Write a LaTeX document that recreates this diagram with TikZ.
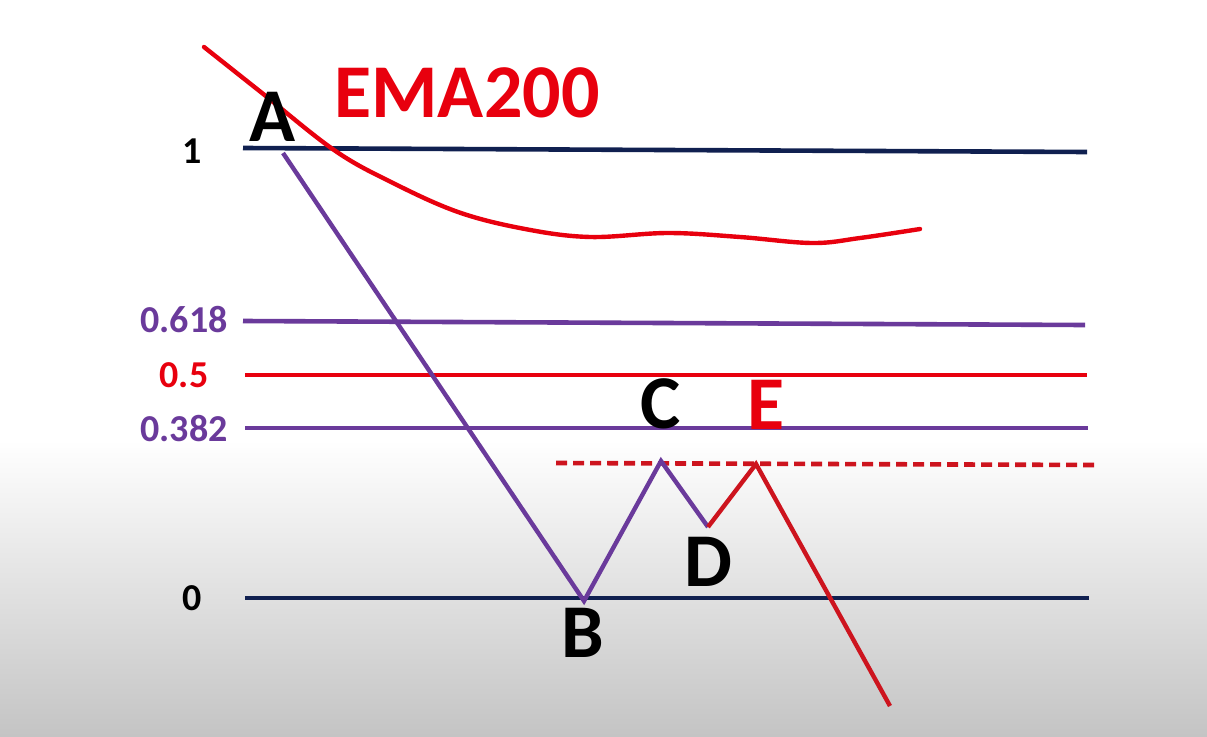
\documentclass[tikz,border=0pt]{standalone}
\usepackage{fontspec}
\setmainfont{Carlito}
\definecolor{navy}{RGB}{16,32,80}
\definecolor{fibpurple}{RGB}{106,58,155}
\definecolor{fibred}{RGB}{232,0,14}
\definecolor{darkred}{RGB}{205,20,30}
\definecolor{bggray}{RGB}{196,196,196}
\tikzset{
  lvl/.style={line width=4.6pt},
  lbl/.style={font=\bfseries\fontsize{38}{40}\selectfont, inner sep=0pt},
  pt/.style={font=\bfseries\fontsize{76}{78}\selectfont, inner sep=0pt},
  wave/.style={line width=4.4pt, line join=round, line cap=round},
  zig/.style={line width=4.4pt, line join=miter},
}
\begin{document}
\begin{tikzpicture}[x=1pt,y=-1pt]
\useasboundingbox (0,0) rectangle (1207,736);
\fill[white] (0,0) rectangle (1207,736);
\shade[top color=white, bottom color=bggray] (0,440) rectangle (1207,736);
% level lines
\coordinate (l1a) at (243,148); \coordinate (l1b) at (1087,152);
\coordinate (l6a) at (243,321); \coordinate (l6b) at (1085,325);
\coordinate (l5a) at (245,375); \coordinate (l5b) at (1087,375);
\coordinate (l3a) at (245,428); \coordinate (l3b) at (1088,428);
\coordinate (l0a) at (245,598); \coordinate (l0b) at (1089,598);
\coordinate (dsa) at (556,463); \coordinate (dsb) at (1096,465);
\draw[lvl, navy] (l1a) -- (l1b);
\draw[lvl, fibpurple] (l6a) -- (l6b);
\draw[lvl, fibred] (l5a) -- (l5b);
\draw[lvl, fibpurple] (l3a) -- (l3b);
\draw[lvl, navy] (l0a) -- (l0b);
\draw[lvl, darkred, dash pattern=on 11pt off 6pt] (dsa) -- (dsb);
% labels
\node[lbl] (t1) at (192,151) {1};
\node[lbl, fibpurple] (t6) at (184,320) {0.618};
\node[lbl, fibred] (t5) at (184,375) {0.5};
\node[lbl, fibpurple] (t3) at (184,429) {0.382};
\node[lbl] (t0) at (192,598) {0};
% EMA200 curve
\draw[wave, fibred] plot[smooth, tension=0.6] coordinates {
 (204,47) (262,93) (334,150) (391,182) (458,212) (525,229) (590,237)
 (668,233) (740,237) (812,243) (860,238) (920,229)};
\node[pt, fibred] (ema) at (467,93) {EMA200};
% swing points
\coordinate (pA) at (283,153);
\coordinate (pB) at (584,601);
\coordinate (pC) at (661,461);
\coordinate (pD) at (708,527);
\coordinate (pE) at (756,464);
\coordinate (pF) at (890,706);
\draw[zig, fibpurple] (pA) -- (pB) -- (pC) -- (pD);
\draw[zig, darkred] (pD) -- (pE) -- (pF);
\node[pt] (A) at (273,117) {A};
\node[pt] (B) at (583,633) {B};
\node[pt] (C) at (661,404) {C};
\node[pt] (D) at (708,562) {D};
\node[pt, fibred] (E) at (766,405) {E};
\end{tikzpicture}
\end{document}
